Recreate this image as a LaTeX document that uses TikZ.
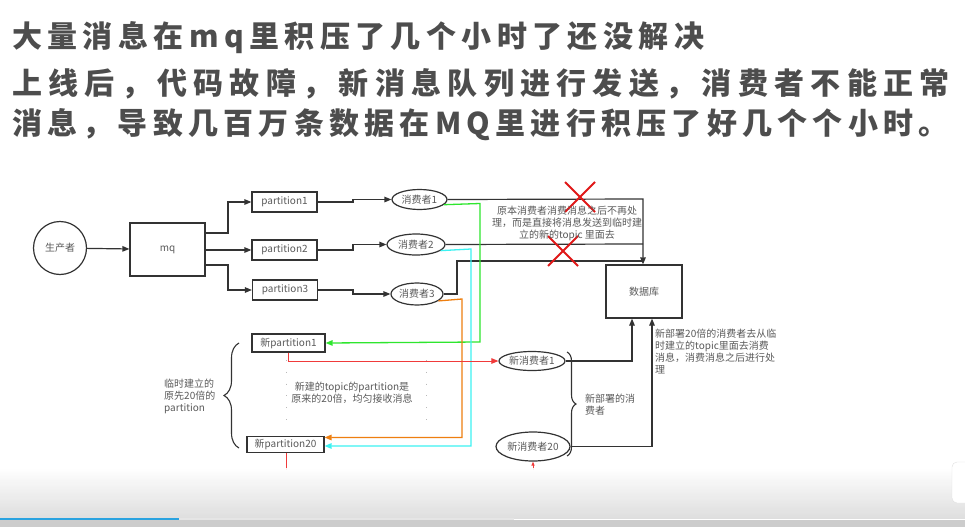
\documentclass[tikz,border=0pt]{standalone}
\usepackage{fontspec}
\setmainfont{Noto Sans CJK SC}
\newfontfamily\titlefontA[LetterSpace=18]{Noto Sans CJK SC}
\newfontfamily\titlefontB[LetterSpace=21]{Noto Sans CJK SC}
\newfontfamily\titlefontC[LetterSpace=17.5]{Noto Sans CJK SC}
\usetikzlibrary{arrows.meta,decorations.pathreplacing,shapes.geometric}
\definecolor{titlegray}{HTML}{4D4D4D}
\definecolor{txtgray}{HTML}{5A5A5A}
\definecolor{linegray}{HTML}{333333}
\definecolor{lgreen}{HTML}{2EE62E}
\definecolor{lcyan}{HTML}{3CF2F2}
\definecolor{lorange}{HTML}{EE7F10}
\definecolor{lred}{HTML}{F03A3A}
\definecolor{xred}{HTML}{E01818}
\definecolor{barblue}{HTML}{2AA3E0}
\tikzset{
  titletext/.style={anchor=base west,inner sep=0,text=titlegray},
  lbl/.style={text=txtgray,font=\fontsize{10}{12}\selectfont},
  pbox/.style={draw=linegray,line width=1.2pt,rectangle,inner sep=0,lbl},
  cons/.style={draw=linegray,line width=1.2pt,ellipse,inner sep=0,lbl},
  conn/.style={draw=linegray,line width=1.2pt,-{Triangle[length=7pt,width=5.5pt]}},
  cconn/.style={line width=1.3pt,-{Triangle[length=7pt,width=5.5pt]}},
  xmark/.style={draw=xred,line width=1.8pt},
  note/.style={lbl,inner sep=0,align=left},
  bracestyle/.style={draw=linegray,line width=1.1pt,decorate},
  dotv/.style={draw=gray!55,line width=0.7pt,dash pattern=on 0.8pt off 11pt}
}
\begin{document}
\begin{tikzpicture}[x=1pt,y=-1pt]
\useasboundingbox (0,0) rectangle (965,527);
\fill[white] (0,0) rectangle (965,527);

% titles
\node[titletext,font=\titlefontA\bfseries\fontsize{30}{32}\selectfont] (t1) at (12,48) {大量消息在mq里积压了几个小时了还没解决};
\node[titletext,font=\titlefontB\bfseries\fontsize{30}{32}\selectfont] (t2) at (12,94) {上线后，代码故障，新消息队列进行发送，消费者不能正常};
\node[titletext,font=\titlefontC\bfseries\fontsize{30}{32}\selectfont] (t3) at (12,134) {消息，导致几百万条数据在MQ里进行积压了好几个个小时。};

% nodes
\node[draw=linegray,line width=1.2pt,circle,minimum size=53pt,inner sep=0,lbl] (prod) at (60,248) {生产者};
\node[pbox,minimum width=75pt,minimum height=53pt] (mq) at (167.5,249.5) {mq};
\node[pbox,minimum width=65pt,minimum height=20pt] (p1) at (284.5,202) {partition1};
\node[pbox,minimum width=65pt,minimum height=20pt] (p2) at (284.5,250) {partition2};
\node[pbox,minimum width=65pt,minimum height=20pt] (p3) at (285,290) {partition3};
\node[cons,minimum width=55pt,minimum height=20pt] (c1) at (419.5,199.5) {消费者1};
\node[cons,minimum width=58pt,minimum height=21pt] (c2) at (416,244.5) {消费者2};
\node[cons,minimum width=52pt,minimum height=22pt] (c3) at (417,294) {消费者3};
\node[pbox,minimum width=76pt,minimum height=53pt] (db) at (644,291.5) {数据库};
\node[pbox,minimum width=73pt,minimum height=18pt] (np1) at (288.5,343) {新partition1};
\node[pbox,minimum width=77pt,minimum height=16pt] (np20) at (285.5,444.5) {新partition20};
\node[cons,minimum width=66pt,minimum height=19pt] (nc1) at (532,361) {新消费者1};
\node[cons,minimum width=74pt,minimum height=29pt] (nc20) at (533,446.5) {新消费者20};

% black connectors
\draw[conn] (mq.east |- 0,233) -| (228,202) -- (p1.west);
\draw[conn] (prod) -- (mq);
\draw[conn] (mq.east |- 0,250) -- (p2.west);
\draw[conn] (mq.east |- 0,265) -| (228,290) -- (p3.west);
\draw[conn] (p1.east) -- (353,202) -- (353,199.5) -- (c1.west);
\draw[conn] (p2.east) -- (353,250) -- (353,244.5) -- (c2.west);
\draw[conn] (p3.east) -- (353,290) -- (353,294) -- (c3.west);
\coordinate (dbin) at (643,199);
\draw[conn] (c1.east) -- (dbin) -- (db.north -| dbin);
\draw[draw=linegray,line width=1.2pt] (c2.east) -- (643,244);
\draw[draw=linegray,line width=1.2pt] (c3.east) -- (457,294) -- (457,261) -- (643,261);
\draw[conn] (nc1.east) -| (db.south -| 632,0);
\draw[conn] (nc20.east) -| (db.south -| 652,0);

% coloured connectors
\draw[cconn,draw=lgreen,-{Triangle[length=7pt,width=5.5pt,fill=lgreen]}] (c1.-12) -- (480,203.5) -- (480,342) -- (np1.east);
\draw[cconn,draw=lcyan,-{Triangle[length=7pt,width=5.5pt,fill=lcyan]}] (c2.-14) -- (471,249) -- (471,446) -- (np20.east |- 0,446);
\draw[cconn,draw=lorange,-{Triangle[length=7pt,width=5.5pt,fill=lorange]}] (c3.-18) -- (462,299) -- (462,437.5) -- (np20.east |- 0,437.5);
\draw[cconn,draw=lred,line width=1pt,-{Triangle[length=7pt,width=5.5pt,fill=lred]}] (np1.south) -- (288.5,361) -- (nc1.west);
\coordinate (r20end) at (286,470);
\draw[draw=lred,line width=1pt] (np20.south -| r20end) -- (r20end);
\coordinate (rtail) at (533,470);
\draw[draw=lred,line width=1pt,-{Triangle[length=4pt,width=3pt,fill=lred]}] (rtail) -- (nc20.south);

% red crosses
\draw[xmark] (565,182) -- (595,212) (595,182) -- (565,212);
\draw[xmark] (548,236) -- (578,266) (578,236) -- (548,266);

% notes
\node[lbl,align=center,inner sep=0] (n1) at (567,223) {原本消费者消费消息之后不再处\\理，而是直接将消息发送到临时建\\立的新的topic 里面去};
\node[note,anchor=north west] (n2) at (655,329) {新部署20倍的消费者去从临\\时建立的topic里面去消费\\消息，消费消息之后进行处\\理};
\node[lbl,align=center,inner sep=0] (n3) at (352,393) {新建的topic的partition是\\原来的20倍，均匀接收消息};
\node[note,anchor=west] (n4) at (164,396) {临时建立的\\原先20倍的\\partition};
\node[note,anchor=west] (n5) at (585,405) {新部署的消\\费者};

% dotted guides
\draw[dotv] (286,360) -- (286,422);
\draw[dotv] (426,360) -- (426,422);

% braces
\draw[bracestyle,decoration={brace,amplitude=15pt}] (239,448) -- (239,343);
\draw[bracestyle,decoration={brace,amplitude=9pt}] (567,352) -- (567,456);

% bottom video overlay
\shade[top color=white,bottom color=black!14,opacity=0.9] (0,468) rectangle (965,518);
\fill[black!10] (0,518) rectangle (514,520);
\fill[barblue] (0,518) rectangle (179,520);
\fill[black!20] (0,520) rectangle (965,527);
\fill[white,draw=black!12,rounded corners=5pt] (952,462) rectangle (975,503);
\end{tikzpicture}
\end{document}
